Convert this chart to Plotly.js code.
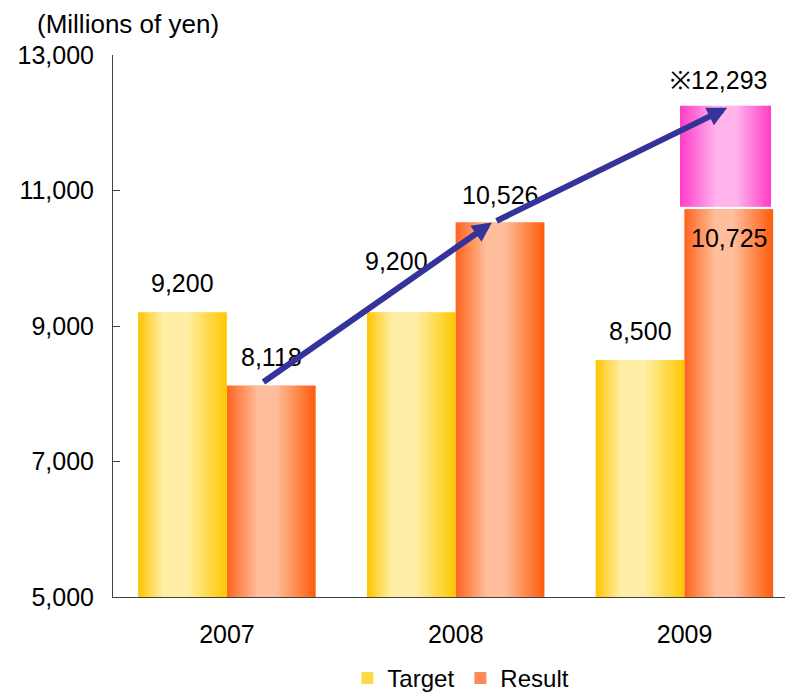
<!DOCTYPE html>
<html>
<head>
<meta charset="utf-8">
<script src="https://cdn.plot.ly/plotly-3.0.1.min.js"></script>
<style>html,body{margin:0;padding:0;background:#fff;}#chart{width:785px;height:695px;}</style>
</head>
<body>
<div id="chart"></div>
<script>
// ---- data ----
const years = ['2007', '2008', '2009'];
const target = [9200, 9200, 8500];
const result = [8118, 10526, 10725];
const extraYear = ['2009'];
const extraBase = [10760];
const extraTop = [12250];
const extraValue = 12293;
const yTicks = [5000, 7000, 9000, 11000, 13000];

// ---- styles ----
const FONT = 'Liberation Sans, Arial, sans-serif';
const targetStops = [[0, [255, 196, 0]], [0.28, [255, 238, 165]], [0.55, [255, 238, 165]], [1, [255, 200, 0]]];
const resultStops = [[0, [255, 100, 30]], [0.35, [255, 190, 155]], [0.55, [255, 190, 155]], [1, [255, 92, 10]]];
const pinkStops = [[0, [255, 60, 200]], [0.4, [255, 180, 236]], [0.62, [255, 180, 236]], [1, [255, 60, 200]]];

function interp(stops, t) {
  for (let i = 0; i < stops.length - 1; i++) {
    const [t0, c0] = stops[i], [t1, c1] = stops[i + 1];
    if (t >= t0 && t <= t1) {
      const f = (t - t0) / (t1 - t0);
      const c = c0.map((v, k) => Math.round(v + (c1[k] - v) * f));
      return 'rgb(' + c.join(',') + ')';
    }
  }
  const c = stops[stops.length - 1][1];
  return 'rgb(' + c.join(',') + ')';
}

const xIndex = (cats) => cats.map(c => years.indexOf(c));

function sliceTraces(xs, ys, base, off, w, stops) {
  const N = 30, out = [];
  for (let i = 0; i < N; i++) {
    const t = (i + 0.5) / N;
    const tr = {
      type: 'bar', x: xs, y: ys,
      offset: off + i * w / N,
      width: i < N - 1 ? (w / N) * 1.6 : w / N,
      marker: { color: interp(stops, t), line: { width: 0 } },
      showlegend: false, hoverinfo: 'skip'
    };
    if (base) tr.base = base;
    out.push(tr);
  }
  return out;
}

const W = 0.387;
const tOff = -0.388, rOff = 0, pOff = -0.02;
const xs = xIndex(years);

const traces = [
  { type: 'bar', name: 'Target', x: xs, y: target, offset: tOff, width: W,
    marker: { color: '#FFD84A', line: { width: 0 } }, hoverinfo: 'skip' },
  { type: 'bar', name: 'Result', x: xs, y: result, offset: rOff, width: W,
    marker: { color: '#FF8A55', line: { width: 0 } }, hoverinfo: 'skip' },
  ...sliceTraces(xs, target, null, tOff, W, targetStops),
  ...sliceTraces(xs, result, null, rOff, W, resultStops),
  ...sliceTraces(xIndex(extraYear), extraTop.map((v, i) => v - extraBase[i]), extraBase, pOff, 0.398, pinkStops)
];

const fmt = v => v.toLocaleString('en-US');
const LBL = 25;
const annotations = [];
const tShift = [[0, 29], [-15, 51], [0, 29]];
target.forEach((v, i) => annotations.push({
  x: xs[i] + tOff + W / 2, y: v, xref: 'x', yref: 'y', text: fmt(v), showarrow: false,
  xshift: tShift[i][0], yshift: tShift[i][1], yanchor: 'middle', font: { size: LBL, color: '#000' }
}));
const rShift = [[0, 29], [0, 28], [0, -29]];
result.forEach((v, i) => annotations.push({
  x: xs[i] + rOff + W / 2, y: v, xref: 'x', yref: 'y', text: fmt(v), showarrow: false,
  xshift: rShift[i][0], yshift: rShift[i][1], yanchor: 'middle', font: { size: LBL, color: '#000' }
}));
annotations.push({
  x: xIndex(extraYear)[0] + pOff + 0.199, y: extraTop[0], xref: 'x', yref: 'y',
  text: '※' + fmt(extraValue), showarrow: false, xshift: -7, yshift: 26, yanchor: 'middle',
  font: { size: LBL, color: '#000' }
});
// trend arrows
annotations.push({
  x: 1.158, y: result[1], ax: 0.153, ay: result[0] + 40,
  xref: 'x', yref: 'y', axref: 'x', ayref: 'y', text: '', showarrow: true,
  arrowhead: 2, arrowsize: 0.65, arrowwidth: 6, arrowcolor: '#333399', standoff: 0
});
annotations.push({
  x: 2.186, y: extraTop[0] - 30, ax: 1.172, ay: result[1] + 15,
  xref: 'x', yref: 'y', axref: 'x', ayref: 'y', text: '', showarrow: true,
  arrowhead: 2, arrowsize: 0.65, arrowwidth: 6, arrowcolor: '#333399', standoff: 0
});
annotations.push({
  x: 0.022, y: 1.058, xref: 'paper', yref: 'paper', xanchor: 'center', yanchor: 'middle',
  text: '(Millions of yen)', showarrow: false, font: { size: 26, color: '#000' }
});

const layout = {
  width: 785, height: 695,
  margin: { l: 113, r: 0, t: 55, b: 98 },
  paper_bgcolor: '#fff', plot_bgcolor: '#fff',
  font: { family: FONT, size: 25, color: '#000' },
  barmode: 'overlay',
  showlegend: true,
  legend: { orientation: 'h', xref: 'container', yref: 'container', x: 0.4425, xanchor: 'left',
            y: 0.024, yanchor: 'middle', entrywidth: 68,
            font: { size: 24 }, bgcolor: 'rgba(0,0,0,0)', traceorder: 'normal' },
  xaxis: {
    range: [-0.498, 2.439], tickvals: xs, ticktext: years,
    showline: true, linecolor: '#404040', linewidth: 1, ticks: '', showgrid: false,
    zeroline: false, ticklabelstandoff: 15, tickfont: { size: 25 }
  },
  yaxis: {
    range: [5000, 13000], tickvals: yTicks, ticktext: yTicks.map(fmt),
    showline: true, linecolor: '#404040', linewidth: 1, ticks: 'inside', ticklen: 7,
    tickcolor: '#404040', showgrid: false, zeroline: false, ticklabelstandoff: 13,
    tickfont: { size: 25 }
  },
  annotations: annotations
};

Plotly.newPlot('chart', traces, layout, { displayModeBar: false, staticPlot: true });
</script>
</body>
</html>
